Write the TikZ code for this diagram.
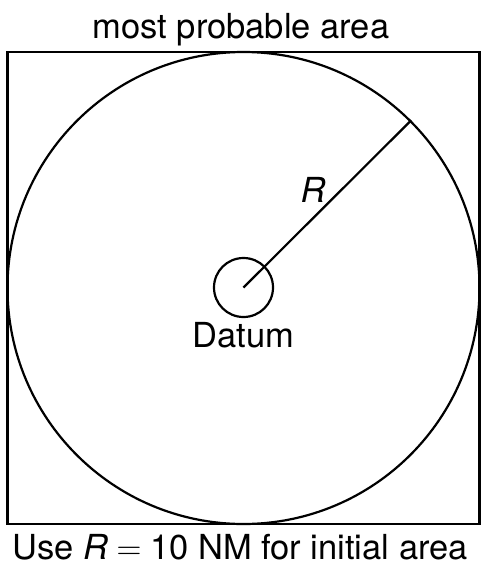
\documentclass[tikz,border=0pt]{standalone}
\usepackage{fontspec}
\setmainfont{TeX Gyre Heros}
\newfontfamily\eqfont{Latin Modern Roman}
\begin{document}
\begin{tikzpicture}[x=1pt,y=-1pt,
  lbl/.style={inner sep=0pt,anchor=base,font=\fontsize{34.5}{40}\selectfont},
  shp/.style={draw,line width=2.2pt}]
\useasboundingbox (0,0) rectangle (488,579);
\node[shp,minimum width=472pt,minimum height=472pt,inner sep=0pt] (sq) at (243.5,288) {};
\node[shp,circle,minimum size=472pt,inner sep=0pt] (big) at (243.5,288) {};
\node[shp,circle,minimum size=59pt,inner sep=0pt] (datum) at (243.5,287.5) {};
\coordinate (dc) at (243.5,287.5);
\draw[line width=2.2pt] (dc) -- (big.45);
\node[lbl] (top) at (241,38) {most probable area};
\node[lbl] (R) at (313,202) {\textit{R}};
\node[lbl] (dl) at (243.5,347) {Datum};
\node[lbl] (bot) at (240,559) {Use \textit{R}\hspace{0.25em}{\eqfont=}\hspace{0.25em}10 NM for initial area};
\end{tikzpicture}
\end{document}
